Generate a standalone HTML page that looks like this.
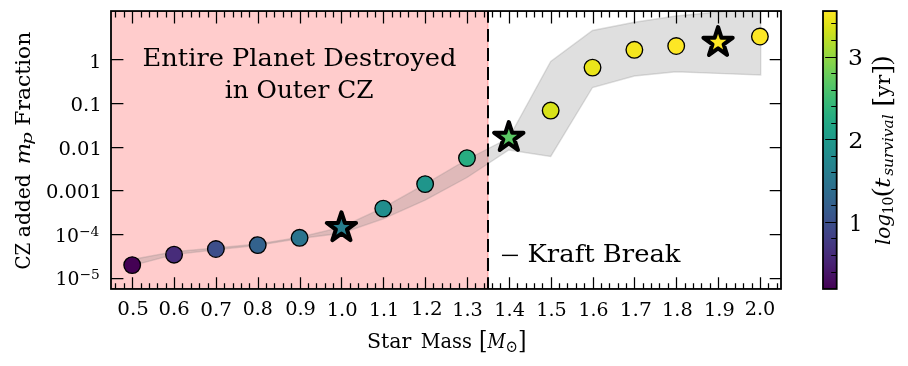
<!DOCTYPE html>
<html><head><meta charset="utf-8"><title>plot</title>
<style>html,body{margin:0;padding:0;background:#fff}svg{display:block}text{font-family:"DejaVu Serif", "Liberation Serif", serif;fill:#000}</style></head><body>
<svg width="908" height="366" viewBox="0 0 908 366">
<rect width="908" height="366" fill="#fff"/>
<defs><clipPath id="ax"><rect x="111.30" y="10.90" width="669.70" height="278.00"/></clipPath>
<linearGradient id="vir" x1="0" y1="0" x2="0" y2="1"><stop offset="0.0000" stop-color="#fde725"/><stop offset="0.0312" stop-color="#ece51b"/><stop offset="0.0625" stop-color="#d8e219"/><stop offset="0.0938" stop-color="#c2df23"/><stop offset="0.1250" stop-color="#addc30"/><stop offset="0.1562" stop-color="#98d83e"/><stop offset="0.1875" stop-color="#84d44b"/><stop offset="0.2188" stop-color="#70cf57"/><stop offset="0.2500" stop-color="#5ec962"/><stop offset="0.2812" stop-color="#4ec36b"/><stop offset="0.3125" stop-color="#3fbc73"/><stop offset="0.3438" stop-color="#32b67a"/><stop offset="0.3750" stop-color="#28ae80"/><stop offset="0.4062" stop-color="#22a785"/><stop offset="0.4375" stop-color="#1fa088"/><stop offset="0.4688" stop-color="#1f988b"/><stop offset="0.5000" stop-color="#21918c"/><stop offset="0.5312" stop-color="#23898e"/><stop offset="0.5625" stop-color="#26828e"/><stop offset="0.5938" stop-color="#297a8e"/><stop offset="0.6250" stop-color="#2c728e"/><stop offset="0.6562" stop-color="#2f6b8e"/><stop offset="0.6875" stop-color="#33638d"/><stop offset="0.7188" stop-color="#375b8d"/><stop offset="0.7500" stop-color="#3b528b"/><stop offset="0.7812" stop-color="#3e4989"/><stop offset="0.8125" stop-color="#424086"/><stop offset="0.8438" stop-color="#453781"/><stop offset="0.8750" stop-color="#472d7b"/><stop offset="0.9062" stop-color="#482374"/><stop offset="0.9375" stop-color="#48186a"/><stop offset="0.9688" stop-color="#470d60"/><stop offset="1.0000" stop-color="#440154"/></linearGradient></defs>
<g clip-path="url(#ax)"><rect x="106.30" y="5.90" width="381.70" height="288.00" fill="#ff0000" fill-opacity="0.2" stroke="#ff0000" stroke-opacity="0.2" stroke-width="1.6"/></g>
<g clip-path="url(#ax)"><polygon points="132.2,259.5 174.0,251.7 215.9,248.0 257.7,244.1 299.6,237.2 341.4,227.2 383.3,207.7 425.1,184.2 467.0,159.5 508.8,138.0 550.7,61.5 592.5,30.5 634.4,22.3 676.2,16.0 718.1,12.0 760.7,8.0 760.7,75.0 718.1,73.4 676.2,71.7 634.4,76.0 592.5,87.5 550.7,156.4 508.8,150.0 467.0,177.5 425.1,200.2 383.3,218.8 341.4,233.2 299.6,238.5 257.7,245.4 215.9,249.8 174.0,254.6 132.2,265.7" fill="#808080" fill-opacity="0.25" stroke="#808080" stroke-opacity="0.25" stroke-width="1.4"/></g>
<g clip-path="url(#ax)"><line x1="488" y1="9.8" x2="488" y2="300" stroke="#000" stroke-width="2.05" stroke-dasharray="12.9 6.2"/></g>
<circle cx="132.20" cy="265.10" r="8.3" fill="#440154" stroke="#000" stroke-width="1.35"/>
<circle cx="174.05" cy="254.70" r="8.3" fill="#472c7a" stroke="#000" stroke-width="1.35"/>
<circle cx="215.89" cy="249.00" r="8.3" fill="#3d4e8a" stroke="#000" stroke-width="1.35"/>
<circle cx="257.74" cy="245.10" r="8.3" fill="#33628d" stroke="#000" stroke-width="1.35"/>
<circle cx="299.59" cy="237.80" r="8.3" fill="#2b748e" stroke="#000" stroke-width="1.35"/>
<circle cx="383.28" cy="208.60" r="8.3" fill="#218e8d" stroke="#000" stroke-width="1.35"/>
<circle cx="425.13" cy="184.10" r="8.3" fill="#1f958b" stroke="#000" stroke-width="1.35"/>
<circle cx="466.98" cy="158.10" r="8.3" fill="#27ad81" stroke="#000" stroke-width="1.35"/>
<circle cx="550.67" cy="110.60" r="8.3" fill="#d8e219" stroke="#000" stroke-width="1.35"/>
<circle cx="592.52" cy="67.60" r="8.3" fill="#eae51a" stroke="#000" stroke-width="1.35"/>
<circle cx="634.36" cy="49.80" r="8.3" fill="#f4e61e" stroke="#000" stroke-width="1.35"/>
<circle cx="676.21" cy="46.00" r="8.3" fill="#fde725" stroke="#000" stroke-width="1.35"/>
<circle cx="759.90" cy="36.50" r="8.3" fill="#fde725" stroke="#000" stroke-width="1.35"/>
<polygon points="341.44,212.35 344.88,222.96 356.03,222.96 347.01,229.51 350.46,240.12 341.44,233.56 332.41,240.12 335.86,229.51 326.84,222.96 337.99,222.96" fill="#277e8e" stroke="#000" stroke-width="4.1" stroke-linejoin="round"/>
<polygon points="508.82,122.15 512.27,132.76 523.42,132.76 514.40,139.31 517.85,149.92 508.82,143.36 499.80,149.92 503.25,139.31 494.22,132.76 505.38,132.76" fill="#5ac864" stroke="#000" stroke-width="4.1" stroke-linejoin="round"/>
<polygon points="718.06,27.15 721.50,37.76 732.66,37.76 723.63,44.31 727.08,54.92 718.06,48.36 709.04,54.92 712.48,44.31 703.46,37.76 714.61,37.76" fill="#fde725" stroke="#000" stroke-width="4.1" stroke-linejoin="round"/>
<path d="M115.50 11.05V17.5M115.50 288.95V283.3M124.50 11.05V17.5M124.50 288.95V283.3M132.50 11.05V23.5M132.50 288.95V277.2M141.50 11.05V17.5M141.50 288.95V283.3M149.50 11.05V17.5M149.50 288.95V283.3M157.50 11.05V17.5M157.50 288.95V283.3M166.50 11.05V17.5M166.50 288.95V283.3M174.50 11.05V23.5M174.50 288.95V277.2M182.50 11.05V17.5M182.50 288.95V283.3M191.50 11.05V17.5M191.50 288.95V283.3M199.50 11.05V17.5M199.50 288.95V283.3M208.50 11.05V17.5M208.50 288.95V283.3M216.50 11.05V23.5M216.50 288.95V277.2M224.50 11.05V17.5M224.50 288.95V283.3M233.50 11.05V17.5M233.50 288.95V283.3M241.50 11.05V17.5M241.50 288.95V283.3M249.50 11.05V17.5M249.50 288.95V283.3M258.50 11.05V23.5M258.50 288.95V277.2M266.50 11.05V17.5M266.50 288.95V283.3M274.50 11.05V17.5M274.50 288.95V283.3M283.50 11.05V17.5M283.50 288.95V283.3M291.50 11.05V17.5M291.50 288.95V283.3M300.50 11.05V23.5M300.50 288.95V277.2M308.50 11.05V17.5M308.50 288.95V283.3M316.50 11.05V17.5M316.50 288.95V283.3M325.50 11.05V17.5M325.50 288.95V283.3M333.50 11.05V17.5M333.50 288.95V283.3M341.50 11.05V23.5M341.50 288.95V277.2M350.50 11.05V17.5M350.50 288.95V283.3M358.50 11.05V17.5M358.50 288.95V283.3M367.50 11.05V17.5M367.50 288.95V283.3M375.50 11.05V17.5M375.50 288.95V283.3M383.50 11.05V23.5M383.50 288.95V277.2M392.50 11.05V17.5M392.50 288.95V283.3M400.50 11.05V17.5M400.50 288.95V283.3M408.50 11.05V17.5M408.50 288.95V283.3M417.50 11.05V17.5M417.50 288.95V283.3M425.50 11.05V23.5M425.50 288.95V277.2M433.50 11.05V17.5M433.50 288.95V283.3M442.50 11.05V17.5M442.50 288.95V283.3M450.50 11.05V17.5M450.50 288.95V283.3M459.50 11.05V17.5M459.50 288.95V283.3M467.50 11.05V23.5M467.50 288.95V277.2M475.50 11.05V17.5M475.50 288.95V283.3M484.50 11.05V17.5M484.50 288.95V283.3M492.50 11.05V17.5M492.50 288.95V283.3M500.50 11.05V17.5M500.50 288.95V283.3M509.50 11.05V23.5M509.50 288.95V277.2M517.50 11.05V17.5M517.50 288.95V283.3M526.50 11.05V17.5M526.50 288.95V283.3M534.50 11.05V17.5M534.50 288.95V283.3M542.50 11.05V17.5M542.50 288.95V283.3M551.50 11.05V23.5M551.50 288.95V277.2M559.50 11.05V17.5M559.50 288.95V283.3M567.50 11.05V17.5M567.50 288.95V283.3M576.50 11.05V17.5M576.50 288.95V283.3M584.50 11.05V17.5M584.50 288.95V283.3M593.50 11.05V23.5M593.50 288.95V277.2M601.50 11.05V17.5M601.50 288.95V283.3M609.50 11.05V17.5M609.50 288.95V283.3M618.50 11.05V17.5M618.50 288.95V283.3M626.50 11.05V17.5M626.50 288.95V283.3M634.50 11.05V23.5M634.50 288.95V277.2M643.50 11.05V17.5M643.50 288.95V283.3M651.50 11.05V17.5M651.50 288.95V283.3M659.50 11.05V17.5M659.50 288.95V283.3M668.50 11.05V17.5M668.50 288.95V283.3M676.50 11.05V23.5M676.50 288.95V277.2M685.50 11.05V17.5M685.50 288.95V283.3M693.50 11.05V17.5M693.50 288.95V283.3M701.50 11.05V17.5M701.50 288.95V283.3M710.50 11.05V17.5M710.50 288.95V283.3M718.50 11.05V23.5M718.50 288.95V277.2M726.50 11.05V17.5M726.50 288.95V283.3M735.50 11.05V17.5M735.50 288.95V283.3M743.50 11.05V17.5M743.50 288.95V283.3M752.50 11.05V17.5M752.50 288.95V283.3M760.50 11.05V23.5M760.50 288.95V277.2M768.50 11.05V17.5M768.50 288.95V283.3M777.50 11.05V17.5M777.50 288.95V283.3M111.00 59.50H123.4M781.00 59.50H769.7M111.00 103.50H123.4M781.00 103.50H769.7M111.00 147.50H123.4M781.00 147.50H769.7M111.00 190.50H123.4M781.00 190.50H769.7M111.00 234.50H123.4M781.00 234.50H769.7M111.00 278.50H123.4M781.00 278.50H769.7" stroke="#000" stroke-width="1.25" fill="none"/>
<rect x="111.00" y="11.05" width="670.00" height="277.90" fill="none" stroke="#000" stroke-width="1.8"/>
<rect x="823.00" y="10.90" width="13.70" height="278.00" fill="url(#vir)"/>
<path d="M836.70 272.50h-5.5M836.70 255.50h-5.5M836.70 238.50h-5.5M836.70 222.50h-11.5M836.70 205.50h-5.5M836.70 189.50h-5.5M836.70 172.50h-5.5M836.70 156.50h-5.5M836.70 139.50h-11.5M836.70 123.50h-5.5M836.70 106.50h-5.5M836.70 90.50h-5.5M836.70 73.50h-5.5M836.70 57.50h-11.5M836.70 40.50h-5.5M836.70 23.50h-5.5" stroke="#000" stroke-width="1.15" fill="none"/>
<rect x="823.00" y="11.05" width="13.70" height="277.90" fill="none" stroke="#000" stroke-width="1.8"/>
<text transform="translate(117.36 314.70) scale(1.0729 1)" font-size="18.5">0.5</text>
<text transform="translate(158.48 314.70) scale(1.0593 1)" font-size="18.5">0.6</text>
<text transform="translate(200.25 316.40) scale(1.0804 1)" font-size="18.5">0.7</text>
<text transform="translate(242.72 314.70) scale(1.0222 1)" font-size="18.5">0.8</text>
<text transform="translate(285.19 314.70) scale(1.0444 1)" font-size="18.5">0.9</text>
<text transform="translate(326.63 316.20) scale(1.0538 1)" font-size="18.5">1.0</text>
<text transform="translate(368.88 316.20) scale(1.0327 1)" font-size="18.5">1.1</text>
<text transform="translate(411.09 314.70) scale(1.0693 1)" font-size="18.5">1.2</text>
<text transform="translate(452.16 316.20) scale(1.0408 1)" font-size="18.5">1.3</text>
<text transform="translate(494.25 316.30) scale(1.0438 1)" font-size="18.5">1.4</text>
<text transform="translate(536.27 316.30) scale(1.0369 1)" font-size="18.5">1.5</text>
<text transform="translate(578.51 316.30) scale(1.0192 1)" font-size="18.5">1.6</text>
<text transform="translate(619.64 316.30) scale(1.0913 1)" font-size="18.5">1.7</text>
<text transform="translate(662.05 316.30) scale(1.0423 1)" font-size="18.5">1.8</text>
<text transform="translate(704.05 316.30) scale(1.0423 1)" font-size="18.5">1.9</text>
<text transform="translate(744.70 315.10) scale(1.0407 1)" font-size="18.5">2.0</text>
<text transform="translate(89.29 68.10) scale(1.0286 1)" font-size="18.5">1</text>
<text transform="translate(70.47 110.50) scale(1.0667 1)" font-size="18.5">0.1</text>
<text transform="translate(58.38 154.50) scale(1.0550 1)" font-size="18.5">0.01</text>
<text transform="translate(45.88 198.20) scale(1.0571 1)" font-size="18.5">0.001</text>
<text transform="translate(54.91 242.00) scale(1.0198 1)" font-size="18.5">10<tspan font-size="13.5" dy="-6.2">−4</tspan></text>
<text transform="translate(55.51 285.00) scale(1.0186 1)" font-size="18.5">10<tspan font-size="13.5" dy="-6.2">−5</tspan></text>
<text transform="translate(849.05 231.00) scale(0.9818 1)" font-size="21.5">1</text>
<text transform="translate(848.24 147.80) scale(1.1100 1)" font-size="21.5">2</text>
<text transform="translate(848.00 64.70) scale(1.0878 1)" font-size="21.5">3</text>
<text transform="translate(142.56 65.70) scale(1.0709 1)" font-size="24">Entire Planet Destroyed</text>
<text transform="translate(224.72 97.90) scale(1.0348 1)" font-size="24">in Outer CZ</text>
<text transform="translate(499.16 260.90) scale(1.4222 1)" font-size="18">−</text>
<text transform="translate(527.55 262.40) scale(1.0773 1)" font-size="24">Kraft Break</text>
<text transform="translate(366.93 348.00) scale(1.0119 1)" font-size="20.3">Star</text>
<text transform="translate(420.65 348.00) scale(0.9534 1)" font-size="20.3">Mass</text>
<text transform="translate(479.04 348.00) scale(0.8697 1)" font-size="20.3"><tspan font-size="25">[</tspan><tspan font-style="italic">M</tspan><tspan font-size="17" dy="4">⊙</tspan><tspan dy="-4" font-size="25">]</tspan></text>
<text transform="translate(30.20 269.53) rotate(-90) scale(0.9018 1)" font-size="20.3">CZ</text>
<text transform="translate(30.20 237.20) rotate(-90) scale(1.0000 1)" font-size="20.3">added</text>
<text transform="translate(30.20 164.36) rotate(-90) scale(1.1077 1)" font-size="20.3"><tspan font-style="italic">m</tspan></text>
<text transform="translate(32.00 144.78) rotate(-90) scale(1.3059 1)" font-size="15"><tspan font-style="italic">p</tspan></text>
<text transform="translate(30.20 125.68) rotate(-90) scale(1.0784 1)" font-size="20.3">Fraction</text>
<text transform="translate(890.00 245.04) rotate(-90) scale(0.9833 1)" font-size="20.3"><tspan font-style="italic">log</tspan></text>
<text transform="translate(892.70 214.36) rotate(-90) scale(1.0033 1)" font-size="14">10</text>
<text transform="translate(889.20 196.62) rotate(-90) scale(1.0154 1)" font-size="25"><tspan font-family="Liberation Serif">(</tspan></text>
<text transform="translate(890.00 187.95) rotate(-90) scale(1.2429 1)" font-size="20.3"><tspan font-style="italic">t</tspan></text>
<text transform="translate(892.70 175.77) rotate(-90) scale(1.0950 1)" font-size="14"><tspan font-style="italic">survival</tspan></text>
<text transform="translate(890.00 106.72) rotate(-90) scale(1.0317 1)" font-size="20.3"><tspan font-size="25">[</tspan>yr<tspan font-size="25">]</tspan><tspan font-size="25" font-family="Liberation Serif" dy="-0.8">)</tspan></text>
</svg></body></html>
